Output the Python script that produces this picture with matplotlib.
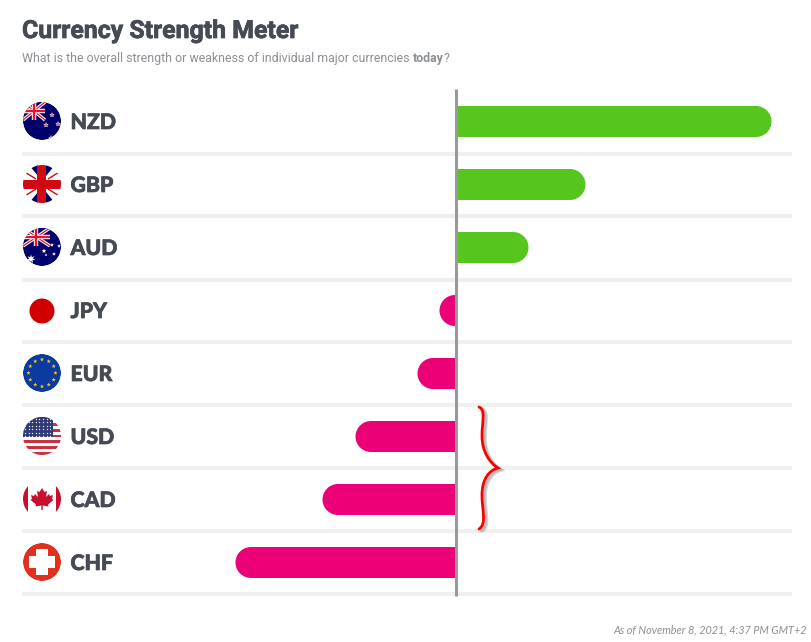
import matplotlib
matplotlib.use("Agg")
import matplotlib.pyplot as plt
import matplotlib.patheffects as pe
import numpy as np
from matplotlib.patches import Circle, Rectangle, Polygon, PathPatch
from matplotlib.path import Path

currencies = ["NZD", "GBP", "AUD", "JPY", "EUR", "USD", "CAD", "CHF"]
strength = [3.15, 1.29, 0.72, -0.17, -0.39, -1.01, -1.34, -2.21]
title = "Currency Strength Meter"
subtitle = "What is the overall strength or weakness of individual major currencies "
subtitle_bold = "today"
footnote = "As of November 8, 2021, 4:37 PM GMT+2"

GREEN = "#56c61f"
PINK = "#ec0077"
DARK = "#454a54"
GREY = "#8b9096"
W, H = 812, 642
CX = 456.5
ROW0, STEP = 121.5, 63

fig = plt.figure(figsize=(W / 100, H / 100), dpi=100, facecolor="white")
ax = fig.add_axes([0, 0, 1, 1])
ax.set_xlim(-CX / 100, (W - CX) / 100)
ax.set_ylim((H - ROW0) / STEP, -ROW0 / STEP)
ax.axis("off")

# row separators
sep_y = np.arange(len(currencies)) + 32 / STEP
ax.hlines(sep_y, (22 - CX) / 100, (792 - CX) / 100, color="#f0f0f0", lw=2.9, zorder=1)

# bars: square at zero, round at the outer end
bar_h = 31 / STEP
rx = 0.155
K = 0.5523
for i, v in enumerate(strength):
    s = 1 if v > 0 else -1
    rad = s * rx
    hh = bar_h / 2
    verts = [(0, i - hh), (v - rad, i - hh),
             (v - rad + K * rad, i - hh), (v, i - K * hh), (v, i),
             (v, i + K * hh), (v - rad + K * rad, i + hh), (v - rad, i + hh),
             (0, i + hh), (0, i - hh)]
    codes = [Path.MOVETO, Path.LINETO, Path.CURVE4, Path.CURVE4, Path.CURVE4,
             Path.CURVE4, Path.CURVE4, Path.CURVE4, Path.LINETO, Path.CLOSEPOLY]
    ax.add_patch(PathPatch(Path(verts, codes), fc=GREEN if v > 0 else PINK, lw=0, zorder=2))
ax.vlines(0, (89 - ROW0) / STEP, (596 - ROW0) / STEP, color="#999999", lw=2.2, zorder=3)

# overlay in pixel coordinates: flags, text, annotation
ov = fig.add_axes([0, 0, 1, 1])
ov.set_xlim(0, W)
ov.set_ylim(H, 0)
ov.axis("off")
ov.patch.set_alpha(0)

FX, R = 42, 19
layer = [10]
heavy = [pe.withStroke(linewidth=0.5, foreground=DARK)]


def next_z():
    layer[0] += 1
    return layer[0]


def clip(cy):
    return Circle((FX, cy), R, transform=ov.transData)


def add(p, cy):
    p.set_zorder(next_z())
    ov.add_patch(p)
    p.set_clip_path(clip(cy))
    return p


def line(x0, y0, x1, y1, c, lw, cy):
    l, = ov.plot([x0, x1], [y0, y1], color=c, lw=lw, solid_capstyle="butt", zorder=next_z())
    l.set_clip_path(clip(cy))


def star(x, y, r, n=5):
    a = np.arange(2 * n) * np.pi / n - np.pi / 2
    rr = np.where(np.arange(2 * n) % 2 == 0, r, r * 0.42)
    return np.c_[x + rr * np.cos(a), y + rr * np.sin(a)]


def union(cy, x0, y0, x1, y1):
    add(Rectangle((x0, y0), x1 - x0, y1 - y0, fc="#00006a", lw=0), cy)
    for a, b, c, d in [(x0, y0, x1, y1), (x0, y1, x1, y0)]:
        line(a, b, c, d, "white", 2.4, cy)
        line(a, b, c, d, "#e8112d", 0.9, cy)
    mx, my = (x0 + x1) / 2, (y0 + y1) / 2
    line(x0, my, x1, my, "white", 3.2, cy)
    line(mx, y0, mx, y1, "white", 3.2, cy)
    line(x0, my, x1, my, "#e8112d", 1.7, cy)
    line(mx, y0, mx, y1, "#e8112d", 1.7, cy)


for i, cur in enumerate(currencies):
    cy = ROW0 - 0.5 + i * STEP
    if cur == "NZD":
        add(Circle((FX, cy), R, fc="#00006a", lw=0), cy)
        union(cy, 23, 102, 45, 120)
        for sx, sy in [(52, 115), (46, 125), (58, 124), (51, 138)]:
            add(Polygon(star(sx, sy, 2.4), fc="#e8506a", ec="white", lw=0.3), cy)
    elif cur == "GBP":
        add(Circle((FX, cy), R, fc="white", lw=0), cy)
        for pts in [[(29, cy - 19), (38, cy - 19), (38, cy - 8)],
                    [(55, cy - 19), (46, cy - 19), (46, cy - 8)],
                    [(29, cy + 19), (38, cy + 19), (38, cy + 8)],
                    [(55, cy + 19), (46, cy + 19), (46, cy + 8)]]:
            add(Polygon(pts, fc="#00006a", lw=0), cy)
        for a, b, c, d in [(23, cy - 13, 36, cy - 5), (61, cy - 13, 48, cy - 5),
                           (23, cy + 13, 36, cy + 5), (61, cy + 13, 48, cy + 5)]:
            line(a, b, c, d, "#cf0a12", 1.0, cy)
        add(Rectangle((23, cy - 4.5), 38, 9, fc="#cf0a12", lw=0), cy)
        add(Rectangle((37.5, cy - 19), 9, 38, fc="#cf0a12", lw=0), cy)
    elif cur == "AUD":
        add(Circle((FX, cy), R, fc="#00006a", lw=0), cy)
        union(cy, 23, cy - 19, 50, cy - 1)
        for sx, sy, r in [(31, cy + 12, 4.5), (44, cy + 4, 2.5), (52, cy - 2, 2),
                          (59, cy - 1, 2), (54, cy + 7, 2), (46, cy + 8, 1.5)]:
            add(Polygon(star(sx, sy, r, 7 if r > 3 else 5), fc="white", lw=0), cy)
    elif cur == "JPY":
        add(Circle((FX, cy + 1), 12.5, fc="#d00000", lw=0), cy)
    elif cur == "EUR":
        add(Circle((FX, cy), R, fc="#0c3a9e", lw=0), cy)
        for k in range(12):
            t = k * np.pi / 6
            add(Polygon(star(FX + 13.5 * np.sin(t), cy - 13.5 * np.cos(t), 2.2),
                        fc="#f5c518", lw=0), cy)
    elif cur == "USD":
        add(Circle((FX, cy), R, fc="white", lw=0), cy)
        for k in range(7):
            add(Rectangle((23, cy - 19 + k * 5.85), 38, 2.9, fc="#c8313e", lw=0), cy)
        add(Rectangle((23, cy - 19), 30, 20, fc="#2f3a78", lw=0), cy)
        for yy in np.arange(cy - 17, cy + 1, 3.4):
            for xx in np.arange(25, 53, 3.6):
                m, = ov.plot(xx, yy, "o", ms=1.0, color="#e8e8f0", mew=0, zorder=next_z())
                m.set_clip_path(clip(cy))
    elif cur == "CAD":
        add(Circle((FX, cy), R, fc="white", lw=0), cy)
        add(Rectangle((23, cy - 19), 5, 38, fc="#c8102e", lw=0), cy)
        add(Rectangle((56, cy - 19), 5, 38, fc="#c8102e", lw=0), cy)
        leaf = [(0, -11), (2.5, -7), (5, -8), (4, -2), (7, -5), (8, -3), (11, -4),
                (10, 0), (11.5, 1), (6, 5.5), (6.5, 7.5), (0.7, 6.5), (0.7, 11),
                (-0.7, 11), (-0.7, 6.5), (-6.5, 7.5), (-6, 5.5), (-11.5, 1), (-10, 0),
                (-11, -4), (-8, -3), (-7, -5), (-4, -2), (-5, -8), (-2.5, -7)]
        add(Polygon([(FX + a, cy + b) for a, b in leaf], fc="#c8102e", lw=0), cy)
    elif cur == "CHF":
        add(Circle((FX, cy), R, fc="#e03020", lw=0), cy)
        add(Rectangle((36, cy - 13), 12, 26, fc="white", lw=0), cy)
        add(Rectangle((29, cy - 6), 26, 12, fc="white", lw=0), cy)
    ov.text(70.5, cy + 1.5, cur, fontsize=15.3, fontweight=900, family="Lato", color=DARK,
            va="center", ha="left", path_effects=heavy)

# headings
ov.text(22, 31, title, fontsize=17.9, fontweight="bold", family="Roboto", color=DARK,
        va="center", ha="left", path_effects=heavy)
t1 = ov.text(22, 58.5, subtitle, fontsize=8.9, family="Roboto", color=GREY, va="center", ha="left")
r = fig.canvas.get_renderer()
x1 = t1.get_window_extent(r).x1
t2 = ov.text(x1, 58.5, subtitle_bold, fontsize=8.9, fontweight="bold", family="Roboto", color=GREY,
             va="center", ha="left")
x2 = t2.get_window_extent(r).x1
ov.text(x2, 58.5, "?", fontsize=8.9, family="Roboto", color=GREY, va="center", ha="left")
ov.text(807, 630, footnote, fontsize=7.85, style="italic", family="Lato", color=GREY,
        va="center", ha="right")

# hand-drawn brace
verts = [(479, 407), (486, 410), (482, 422), (482, 436), (482, 452), (490, 463), (498, 468),
         (490, 470), (482, 478), (482, 495), (482, 510), (487, 524), (479, 529)]
codes = [Path.MOVETO] + [Path.CURVE4] * 12
for dx, col, lw, a in [(3, "#888888", 2.6, 0.35), (2, "#888888", 2.2, 0.35), (0, "#ff0000", 2.0, 1)]:
    ov.add_patch(PathPatch(Path([(x + dx, y + dx * 0.7) for x, y in verts], codes), fc="none",
                           ec=col, lw=lw, alpha=a, capstyle="round"))

fig.savefig("out.png", dpi=100, facecolor="white")
